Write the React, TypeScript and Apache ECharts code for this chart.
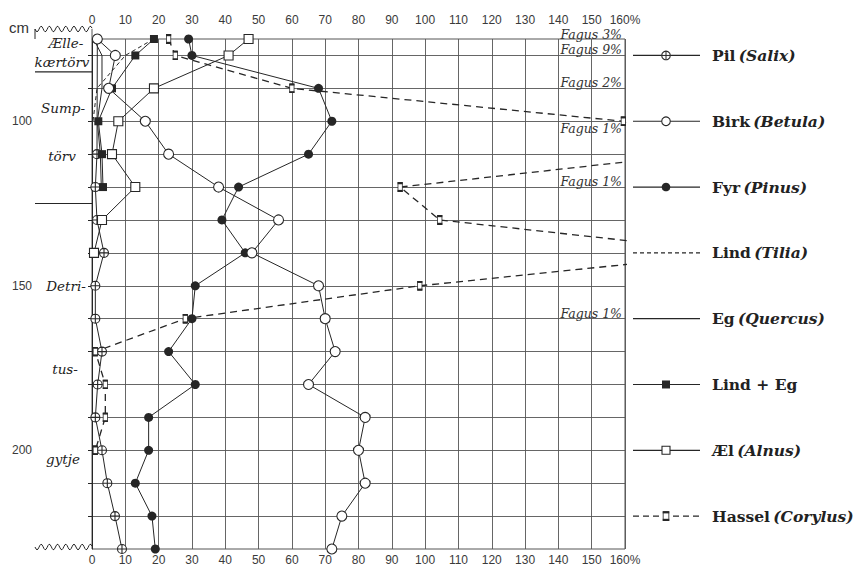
import React, { useEffect, useRef } from 'react';
import * as echarts from 'echarts';

// ---------- data ----------
const depths = [75, 80, 90, 100, 110, 120, 130, 140, 150, 160, 170, 180, 190, 200, 210, 220, 230];
const pil = [1.6, null, null, null, 1.5, 1, 1.5, 3.6, 1, 1, 3, 1.7, 1, 3, 4.6, 6.9, 9];
const birk = [1.6, 7, 5, 16, 23, 38, 56, 48, 68, 70, 73, 65, 82, 80, 82, 75, 72];
const fyr = [29, 30, 68, 72, 65, 44, 39, 46, 31, 30, 23, 31, 17, 17, 13, 18, 19];
const lind = [18.5, 10, 1.5, 0.3];
const eg = [0.5, 3, 3, 1.6, 2.5, 2.8];
const lindEg = [18.6, 13, 6, 1.9, 3, 3.3];
const alnus = [47, 41, 18.6, 7.9, 6, 13, 3, 0.6];
const hassel = [23, 25, 60, 159.5, 181, 92.5, 104.4, 194, 98.4, 28, 1, 4, 4, 1];

const percentTicks = [0, 10, 20, 30, 40, 50, 60, 70, 80, 90, 100, 110, 120, 130, 140, 150, 160];
const gridDepths = [80, 90, 100, 110, 120, 130, 140, 150, 160, 170, 180, 190, 200, 210, 220];
const depthLabels = [100, 150, 200];

const fagusDepths = [75, 80, 90, 100, 120, 160];
const fagusTexts = ['Fagus 3%', 'Fagus 9%', 'Fagus 2%', 'Fagus 1%', 'Fagus 1%', 'Fagus 1%'];

const strataBounds = [85, 125];
const strataTexts = ['Ælle-', 'kærtörv', 'Sump-', 'törv', 'Detri-', 'tus-', 'gytje'];

const legendNames = ['Pil', 'Birk', 'Fyr', 'Lind', 'Eg', 'Lind + Eg', 'Æl', 'Hassel'];
const legendLatin = ['Salix', 'Betula', 'Pinus', 'Tilia', 'Quercus', '', 'Alnus', 'Corylus'];
const legendDepths = [80, 100, 120, 140, 160, 180, 200, 220];

// ---------- styling ----------
const INK = '#262626';
const GRID = '#555555';
const SERIF = 'DejaVu Serif';
const SANS = 'Liberation Sans';

const hasselSvg =
  "<svg xmlns='http://www.w3.org/2000/svg' width='8' height='11' viewBox='0 0 8 11'>" +
  "<rect x='0.6' y='0.6' width='6.8' height='9.8' fill='white' stroke='#262626' stroke-width='1.2'/>" +
  "<rect x='0' y='0' width='8' height='2.4' fill='#262626'/>" +
  "<rect x='0' y='8.6' width='8' height='2.4' fill='#262626'/></svg>";
const hasselImg = 'data:image/svg+xml;charset=utf-8,' + encodeURIComponent(hasselSvg);
const pilPath = 'path://M10,0 A10,10 0 1,1 10,20 A10,10 0 1,1 10,0 Z M0,10 L20,10 M10,0 L10,20';

const pairs = (vals: (number | null)[]) =>
  vals.map((v, i) => [v === null ? null : v, depths[i]]);

const openItem = { color: '#fff', borderColor: INK, borderWidth: 1.1 };

export default function App() {
  const ref = useRef<HTMLDivElement>(null);

  useEffect(() => {
    if (!ref.current) return;
    const chart = echarts.init(ref.current, null, { renderer: 'svg' });

    const labelFmt = (v: number) => (v === 160 ? '160%' : String(v));
    const xBase = {
      type: 'value',
      min: percentTicks[0],
      max: percentTicks[percentTicks.length - 1],
      interval: 10,
      axisLine: { show: false },
      axisTick: { show: false },
    };

    chart.setOption({
      animation: false,
      backgroundColor: '#fff',
      grid: {
        left: 92,
        right: 235,
        top: 39,
        bottom: 20,
        show: true,
        borderColor: GRID,
        borderWidth: 1,
        backgroundColor: 'transparent',
      },
      xAxis: [
        {
          ...xBase,
          position: 'bottom',
          splitLine: { show: true, lineStyle: { color: GRID, width: 0.9 } },
          axisLabel: { formatter: labelFmt, fontFamily: SANS, fontSize: 12, color: '#3a3a3a', margin: 5 },
        },
        {
          ...xBase,
          position: 'top',
          splitLine: { show: false },
          axisLabel: { formatter: labelFmt, fontFamily: SANS, fontSize: 12, color: '#3a3a3a', margin: 13 },
        },
      ],
      yAxis: [
        {
          type: 'value',
          min: 75,
          max: 230,
          inverse: true,
          axisLine: { show: false },
          axisTick: { show: false, customValues: gridDepths },
          axisLabel: { show: false, customValues: gridDepths },
          splitLine: { show: true, lineStyle: { color: GRID, width: 0.9 } },
        },
        {
          type: 'value',
          min: 75,
          max: 230,
          inverse: true,
          position: 'left',
          offset: 57,
          axisLine: { show: true, lineStyle: { color: INK, width: 1 } },
          axisTick: { show: true, length: 4, customValues: gridDepths, lineStyle: { color: INK } },
          axisLabel: { customValues: depthLabels, fontFamily: SANS, fontSize: 12, color: '#3a3a3a', margin: 3 },
          splitLine: { show: false },
        },
      ],
      series: [
        {
          name: 'Lind', type: 'line', data: pairs(lind), symbol: 'none',
          lineStyle: { color: INK, width: 1, type: [4, 3] },
        },
        {
          name: 'Eg', type: 'line', data: pairs(eg), symbol: 'none',
          lineStyle: { color: INK, width: 1 },
        },
        {
          name: 'Pil', type: 'line', data: pairs(pil), symbol: pilPath, symbolSize: 9,
          connectNulls: true, lineStyle: { color: INK, width: 1 }, itemStyle: openItem,
        },
        {
          name: 'Hassel', type: 'line', data: pairs(hassel), symbol: 'image://' + hasselImg,
          symbolSize: [7, 10], lineStyle: { color: INK, width: 1.3, type: [7, 5] },
          itemStyle: { color: INK },
        },
        {
          name: 'Æl', type: 'line', data: pairs(alnus), symbol: 'rect', symbolSize: 9,
          lineStyle: { color: INK, width: 1 }, itemStyle: openItem,
        },
        {
          name: 'Lind + Eg', type: 'line', data: pairs(lindEg), symbol: 'rect', symbolSize: 8,
          lineStyle: { color: INK, width: 1 }, itemStyle: { color: INK },
        },
        {
          name: 'Fyr', type: 'line', data: pairs(fyr), symbol: 'circle', symbolSize: 9,
          lineStyle: { color: INK, width: 1 }, itemStyle: { color: INK },
        },
        {
          name: 'Birk', type: 'line', data: pairs(birk), symbol: 'circle', symbolSize: 10,
          lineStyle: { color: INK, width: 1 }, itemStyle: openItem,
        },
      ],
    });

    const px = (x: number, d: number) => chart.convertToPixel({ gridIndex: 0 }, [x, d]) as number[];
    const [x0, yTop] = px(0, 75);
    const [, yBot] = px(0, 230);
    const colL = 35;

    const wavy = (y: number) => {
      const pts: number[][] = [];
      for (let x = colL; x <= x0; x += 1) {
        pts.push([x, y + 2.8 * Math.sin(((x - colL) / 8.2) * Math.PI * 2)]);
      }
      return pts;
    };

    const g: any[] = [];
    g.push({ type: 'polyline', shape: { points: wavy(29), smooth: 0 }, style: { stroke: INK, lineWidth: 1, fill: null } });
    g.push({ type: 'polyline', shape: { points: wavy(yBot - 2), smooth: 0 }, style: { stroke: INK, lineWidth: 1, fill: null } });
    g.push({ type: 'line', shape: { x1: colL, y1: 29, x2: colL, y2: yTop }, style: { stroke: INK, lineWidth: 1 } });
    g.push({ type: 'line', shape: { x1: x0, y1: 29, x2: x0, y2: yTop }, style: { stroke: GRID, lineWidth: 1 } });
    g.push({ type: 'text', x: 19, y: 27, style: { text: 'cm', font: `15px ${SANS}`, fill: '#333', align: 'center', verticalAlign: 'middle' } });

    strataBounds.forEach((d) => {
      const [, y] = px(0, d);
      g.push({ type: 'line', shape: { x1: colL, y1: y, x2: x0, y2: y }, style: { stroke: INK, lineWidth: 1.1 } });
    });
    const strataPos = [
      [66, 76.3], [62, 82], [63, 96], [62, 110.6], [66, 150], [65, 175.2], [63, 202.6],
    ];
    strataTexts.forEach((t, i) => {
      const [, y] = px(0, strataPos[i][1]);
      g.push({
        type: 'text', x: strataPos[i][0], y,
        style: { text: t, font: `italic 13.5px ${SERIF}`, fill: '#222', align: 'center', verticalAlign: 'middle' },
      });
    });

    const fagusDy = [-4.5, -6, -6, 7, -6, -5];
    const [xr] = px(160, 75);
    fagusTexts.forEach((t, i) => {
      const [, y] = px(0, fagusDepths[i]);
      g.push({
        type: 'text', x: xr - 3, y: y + fagusDy[i],
        style: { text: t, font: `italic 12.5px ${SERIF}`, fill: '#333', align: 'right', verticalAlign: 'middle' },
      });
    });

    const lx1 = 633, lx2 = 700, mx = 666, tx = 712;
    legendNames.forEach((n, i) => {
      const [, y] = px(0, legendDepths[i]);
      let dash: any = null;
      if (n === 'Lind') dash = [4, 3];
      if (n === 'Hassel') dash = [6, 4];
      g.push({ type: 'line', shape: { x1: lx1, y1: y, x2: lx2, y2: y }, style: { stroke: INK, lineWidth: 1.2, lineDash: dash } });
      if (n === 'Pil') {
        g.push({ type: 'circle', shape: { cx: mx, cy: y, r: 4.3 }, style: { fill: '#fff', stroke: INK, lineWidth: 1.1 } });
        g.push({ type: 'line', shape: { x1: mx - 4.3, y1: y, x2: mx + 4.3, y2: y }, style: { stroke: INK, lineWidth: 1 } });
        g.push({ type: 'line', shape: { x1: mx, y1: y - 4.3, x2: mx, y2: y + 4.3 }, style: { stroke: INK, lineWidth: 1 } });
      } else if (n === 'Birk') {
        g.push({ type: 'circle', shape: { cx: mx, cy: y, r: 4.3 }, style: { fill: '#fff', stroke: INK, lineWidth: 1.1 } });
      } else if (n === 'Fyr') {
        g.push({ type: 'circle', shape: { cx: mx, cy: y, r: 4.3 }, style: { fill: INK } });
      } else if (n === 'Lind + Eg') {
        g.push({ type: 'rect', shape: { x: mx - 4, y: y - 4, width: 8, height: 8 }, style: { fill: INK } });
      } else if (n === 'Æl') {
        g.push({ type: 'rect', shape: { x: mx - 4, y: y - 4, width: 8, height: 8 }, style: { fill: '#fff', stroke: INK, lineWidth: 1.1 } });
      } else if (n === 'Hassel') {
        g.push({ type: 'image', style: { image: hasselImg, x: mx - 3.5, y: y - 5, width: 7, height: 10 } });
      }
      const latin = legendLatin[i];
      g.push({
        type: 'text', x: tx, y,
        style: {
          text: latin ? `{n|${n}} {i|(${latin})}` : `{n|${n}}`,
          rich: {
            n: { fontFamily: SERIF, fontSize: 15.5, fontWeight: 'bold', fill: '#222' },
            i: { fontFamily: SERIF, fontSize: 15.5, fontWeight: 'bold', fontStyle: 'italic', fill: '#222' },
          },
          align: 'left',
          verticalAlign: 'middle',
        },
      });
    });

    chart.setOption({ graphic: g });

    return () => chart.dispose();
  }, []);

  return (
    <div
      ref={ref}
      style={{ position: 'fixed', left: 0, top: 0, width: 860, height: 569, background: '#fff' }}
    />
  );
}
